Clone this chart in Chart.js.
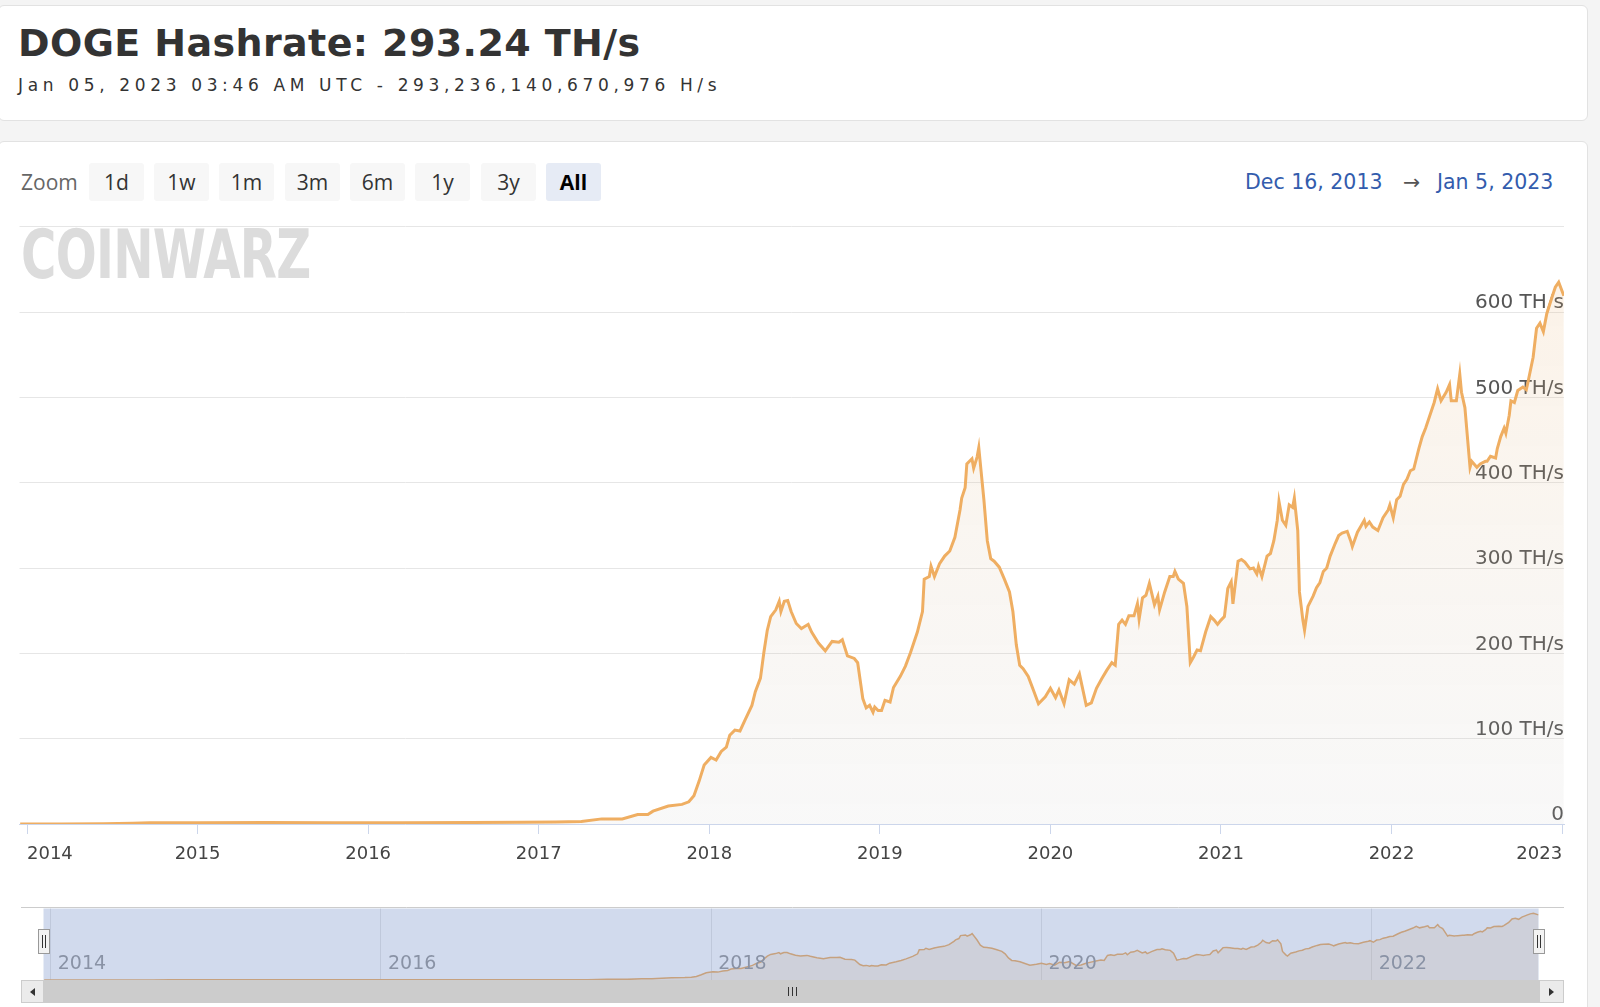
<!DOCTYPE html>
<html>
<head>
<meta charset="utf-8">
<script src="https://cdn.jsdelivr.net/npm/chart.js@4.4.0/dist/chart.umd.min.js"></script>
<style>
body { margin:0; width:1600px; height:1007px; background:#f4f4f4; position:relative; overflow:hidden; font-family:"DejaVu Sans", sans-serif; }
.card { position:absolute; left:-2px; width:1590px; background:#fff; border:1px solid #e2e2e2; border-radius:6px; box-sizing:border-box; }
#head { top:5px; height:116px; }
#panel { top:141px; height:900px; }
#title { position:absolute; left:18px; top:24px; font:bold 38px "DejaVu Sans"; line-height:1; color:#333; white-space:nowrap; letter-spacing:0.4px; }
#sub { position:absolute; left:18px; top:77px; font:17px "DejaVu Sans"; line-height:1; color:#333; white-space:nowrap; letter-spacing:4.65px; }
#zoomLbl { position:absolute; left:21px; top:163px; font:21px "Open Sans"; line-height:39px; color:#666; }
.btn { position:absolute; top:163px; width:55px; height:38px; text-align:center; background:#f7f7f7; border-radius:3px; font:21px "Open Sans"; line-height:39px; color:#333; }
.btn.on { background:#e6ebf5; font-weight:bold; color:#000; }
.range { position:absolute; top:163px; font:20.5px "DejaVu Sans"; line-height:39px; color:#335cad; white-space:nowrap; }
#logo { position:absolute; left:21px; top:222px; font:bold 67px "DejaVu Sans"; line-height:1; color:#dcdcdc; transform:scaleX(0.72); transform-origin:left top; letter-spacing:-1px; }
canvas { position:absolute; }
#main { left:0; top:200px; }
#nav { left:21px; top:907px; }
.sb { position:absolute; top:980px; height:23px; box-sizing:border-box; }
#sbL, #sbR { background:#ebebeb; border:1px solid #cccccc; }
#sbL { left:21px; width:23px; }
#sbR { left:1539px; width:25px; }
#thumb { left:44px; width:1495px; background:#cccccc; }
.tri { position:absolute; top:7px; width:0; height:0; border-top:4px solid transparent; border-bottom:4px solid transparent; }
#sbL .tri { left:8px; border-right:5px solid #333; }
#sbR .tri { left:9px; border-left:5px solid #333; }
#grip { position:absolute; left:744px; top:7px; width:9px; height:9px; border-left:1px solid #333; border-right:1px solid #333; box-sizing:border-box; }
#grip:after { content:""; position:absolute; left:3px; top:0; width:1px; height:9px; background:#333; }
</style>
</head>
<body>
<div class="card" id="head"></div>
<div class="card" id="panel"></div>
<div id="title">DOGE Hashrate: 293.24 TH/s</div>
<div id="sub">Jan 05, 2023 03:46 AM UTC - 293,236,140,670,976 H/s</div>
<div id="zoomLbl">Zoom</div>
<div class="btn" style="left:89px">1d</div>
<div class="btn" style="left:154px">1w</div>
<div class="btn" style="left:219px">1m</div>
<div class="btn" style="left:285px">3m</div>
<div class="btn" style="left:350px">6m</div>
<div class="btn" style="left:415px">1y</div>
<div class="btn" style="left:481px">3y</div>
<div class="btn on" style="left:546px">All</div>
<div class="range" style="left:1245px">Dec 16, 2013</div>
<div class="range" style="left:1403px;color:#555">→</div>
<div class="range" style="left:1437px">Jan 5, 2023</div>
<div id="logo">COINWARZ</div>
<canvas id="main" width="1587" height="680"></canvas>
<canvas id="nav" width="1543" height="73"></canvas>
<div class="sb" id="sbL"><div class="tri"></div></div>
<div class="sb" id="thumb"><div id="grip"></div></div>
<div class="sb" id="sbR"><div class="tri"></div></div>
<script>
// fractional year of each sample, Dec 16 2013 -> Jan 5 2023
const years = [
    2013.96, 2014.20, 2014.45, 2014.62, 2014.72, 2015.00, 2015.40, 2015.80, 2016.20, 2016.60,
    2016.90, 2017.10, 2017.25, 2017.37, 2017.49, 2017.58, 2017.64, 2017.67, 2017.76, 2017.84,
    2017.88, 2017.91, 2017.94, 2017.97, 2018.01, 2018.04, 2018.07, 2018.10, 2018.12, 2018.15,
    2018.18, 2018.21, 2018.25, 2018.27, 2018.30, 2018.32, 2018.34, 2018.36, 2018.39, 2018.41,
    2018.42, 2018.44, 2018.46, 2018.48, 2018.51, 2018.54, 2018.58, 2018.60, 2018.64, 2018.68,
    2018.72, 2018.76, 2018.78, 2018.81, 2018.85, 2018.87, 2018.90, 2018.92, 2018.94, 2018.96,
    2018.97, 2018.99, 2019.01, 2019.03, 2019.06, 2019.08, 2019.12, 2019.15, 2019.18, 2019.22,
    2019.25, 2019.26, 2019.29, 2019.30, 2019.32, 2019.35, 2019.38, 2019.41, 2019.44, 2019.47,
    2019.48, 2019.50, 2019.51, 2019.54, 2019.55, 2019.57, 2019.58, 2019.61, 2019.63, 2019.65,
    2019.67, 2019.70, 2019.73, 2019.76, 2019.78, 2019.80, 2019.82, 2019.84, 2019.87, 2019.90,
    2019.93, 2019.97, 2020.00, 2020.03, 2020.05, 2020.08, 2020.11, 2020.14, 2020.17, 2020.21,
    2020.24, 2020.27, 2020.30, 2020.33, 2020.36, 2020.38, 2020.40, 2020.42, 2020.44, 2020.46,
    2020.49, 2020.51, 2020.52, 2020.54, 2020.56, 2020.58, 2020.61, 2020.63, 2020.64, 2020.67,
    2020.70, 2020.72, 2020.73, 2020.75, 2020.78, 2020.80, 2020.82, 2020.84, 2020.86, 2020.88,
    2020.91, 2020.94, 2020.96, 2020.98, 2021.00, 2021.02, 2021.04, 2021.06, 2021.07, 2021.10,
    2021.12, 2021.14, 2021.17, 2021.19, 2021.21, 2021.22, 2021.24, 2021.27, 2021.29, 2021.31,
    2021.33, 2021.34, 2021.36, 2021.38, 2021.40, 2021.42, 2021.43, 2021.45, 2021.46, 2021.48,
    2021.49, 2021.51, 2021.54, 2021.56, 2021.58, 2021.60, 2021.62, 2021.64, 2021.67, 2021.69,
    2021.71, 2021.74, 2021.76, 2021.77, 2021.80, 2021.82, 2021.84, 2021.85, 2021.87, 2021.89,
    2021.92, 2021.95, 2021.98, 2021.99, 2022.01, 2022.03, 2022.05, 2022.07, 2022.09, 2022.11,
    2022.13, 2022.16, 2022.18, 2022.20, 2022.22, 2022.25, 2022.27, 2022.29, 2022.32, 2022.34,
    2022.35, 2022.38, 2022.40, 2022.41, 2022.43, 2022.46, 2022.47, 2022.50, 2022.52, 2022.55,
    2022.56, 2022.58, 2022.61, 2022.62, 2022.64, 2022.66, 2022.67, 2022.69, 2022.70, 2022.72,
    2022.74, 2022.77, 2022.79, 2022.80, 2022.83, 2022.85, 2022.87, 2022.89, 2022.91, 2022.94,
    2022.96, 2022.98, 2023.01
];
// hashrate in TH/s
const hashrate = [
    0.1, 0.1, 0.3, 0.8, 1.5, 1.6, 1.7, 1.5, 1.6, 1.8,
    2.0, 2.4, 3, 6, 6, 11, 11, 15, 21, 23,
    26, 33, 50, 69, 78, 75, 85, 90, 104, 110,
    109, 122, 139, 155, 171, 201, 227, 243, 251, 261,
    249, 261, 262, 249, 235, 229, 234, 225, 212, 203,
    214, 213, 216, 197, 194, 189, 147, 136, 139, 131,
    137, 133, 133, 145, 143, 160, 173, 185, 201, 225,
    249, 287, 290, 302, 290, 305, 314, 320, 336, 368,
    382, 394, 422, 428, 417, 430, 441, 380, 332, 311,
    308, 301, 287, 272, 249, 210, 186, 182, 173, 157,
    141, 149, 159, 148, 157, 141, 169, 164, 176, 139,
    142, 159, 170, 180, 189, 186, 234, 239, 234, 244,
    244, 258, 240, 265, 268, 282, 257, 267, 251, 272,
    290, 290, 296, 287, 282, 255, 189, 196, 204, 203,
    225, 243, 239, 234, 239, 243, 276, 284, 258, 308,
    310, 307, 299, 300, 293, 302, 290, 314, 317, 332,
    356, 378, 356, 350, 374, 371, 382, 344, 272, 239,
    227, 255, 267, 277, 283, 296, 300, 314, 329, 338,
    341, 343, 332, 325, 342, 349, 356, 349, 354, 348,
    344, 359, 368, 374, 359, 380, 384, 398, 404, 414,
    416, 440, 454, 464, 476, 494, 510, 496, 506, 515,
    496, 496, 527, 506, 488, 418, 425, 418, 422, 425,
    425, 431, 429, 440, 454, 464, 458, 479, 496, 494,
    508, 512, 509, 518, 547, 581, 587, 577, 598, 617,
    629, 635, 619
];
const yearTicks = [2014, 2015, 2016, 2017, 2018, 2019, 2020, 2021, 2022, 2023];
const navTicks = [2014, 2016, 2018, 2020, 2022];
const yTicks = [0, 100, 200, 300, 400, 500, 600, 700];
const xStart = 2013.956; // Dec 16, 2013
const xEnd = 2023.011;   // Jan 5, 2023

const points = years.map((y, i) => ({ x: y, y: hashrate[i] }));
const lineColor = '#efae62';

new Chart("main", {
    type: "line",
    data: {
        datasets: [{
            data: points,
            borderColor: lineColor,
            borderWidth: 3,
            pointRadius: 0,
            tension: 0,
            fill: 'origin',
            backgroundColor: function (ctx) {
                const a = ctx.chart.chartArea;
                if (!a) return 'rgba(0,0,0,0)';
                const g = ctx.chart.ctx.createLinearGradient(0, a.top, 0, a.bottom);
                g.addColorStop(0, 'rgba(239,174,98,0.16)');
                g.addColorStop(1, 'rgba(190,190,190,0.1)');
                return g;
            }
        }]
    },
    options: {
        responsive: false,
        animation: false,
        layout: { padding: { left: 19.5, right: 23, top: 26.7, bottom: 16 } },
        plugins: { legend: { display: false }, tooltip: { enabled: false } },
        scales: {
            x: {
                type: 'linear',
                min: xStart,
                max: xEnd,
                afterBuildTicks: s => { s.ticks = yearTicks.map(v => ({ value: v })); },
                afterFit: s => { s.height = 40; },
                grid: {
                    drawOnChartArea: false,
                    drawTicks: true,
                    tickLength: 10,
                    color: '#ccd6eb'
                },
                border: { display: true, color: '#ccd6eb' },
                ticks: {
                    align: 'inner',
                    padding: 10,
                    color: '#444',
                    font: { family: 'DejaVu Sans', size: 18 },
                    callback: v => String(v)
                }
            },
            y: {
                position: 'right',
                min: 0,
                max: 700,
                afterBuildTicks: s => { s.ticks = yTicks.map(v => ({ value: v })); },
                afterFit: s => { s.width = 0; },
                grid: { color: '#e6e6e6', drawTicks: false },
                border: { display: false },
                ticks: {
                    mirror: true,
                    padding: 0,
                    labelOffset: -9,
                    color: '#555',
                    font: { family: 'DejaVu Sans', size: 20 },
                    callback: v => v === 700 ? '' : (v === 0 ? '0' : v + ' TH/s')
                }
            }
        }
    }
});

// navigator: labels inside, blue mask and handles on top
const navOverlay = {
    id: 'navOverlay',
    afterDraw(chart) {
        const c = chart.ctx;
        const a = chart.chartArea;
        const xs = chart.scales.x;
        c.save();
        c.fillStyle = '#999';
        c.font = '19px "DejaVu Sans"';
        c.textBaseline = 'middle';
        navTicks.forEach(v => c.fillText(String(v), xs.getPixelForValue(v) + 7, 57));
        c.fillStyle = 'rgba(102,133,194,0.3)';
        c.fillRect(a.left, a.top, a.right - a.left, a.bottom - a.top);
        c.strokeStyle = '#cccccc';
        c.lineWidth = 1;
        c.beginPath();
        c.moveTo(0, 0.5);
        c.lineTo(chart.width, 0.5);
        c.stroke();
        [a.left, a.right].forEach(px => {
            const x0 = Math.round(px) - 5.5;
            c.fillStyle = '#f2f2f2';
            c.strokeStyle = '#999';
            c.fillRect(x0, 22.5, 11, 24);
            c.strokeRect(x0, 22.5, 11, 24);
            c.strokeStyle = '#333';
            c.beginPath();
            c.moveTo(x0 + 4, 28); c.lineTo(x0 + 4, 41);
            c.moveTo(x0 + 7, 28); c.lineTo(x0 + 7, 41);
            c.stroke();
        });
        c.restore();
    }
};

new Chart("nav", {
    type: "line",
    data: {
        datasets: [{
            data: points,
            borderColor: lineColor,
            borderWidth: 1.5,
            pointRadius: 0,
            tension: 0,
            fill: 'origin',
            backgroundColor: 'rgba(240,175,95,0.17)'
        }]
    },
    options: {
        responsive: false,
        animation: false,
        layout: { padding: { left: 22.5, right: 25.4, top: 1.5, bottom: 0 } },
        plugins: { legend: { display: false }, tooltip: { enabled: false } },
        scales: {
            x: {
                type: 'linear',
                min: xStart,
                max: xEnd,
                afterBuildTicks: s => { s.ticks = navTicks.map(v => ({ value: v })); },
                afterFit: s => { s.height = 0; },
                grid: { color: '#e6e6e6', drawTicks: false },
                border: { display: false },
                ticks: { display: false }
            },
            y: {
                display: false,
                min: 0,
                max: 680
            }
        }
    },
    plugins: [navOverlay]
});
</script>
</body>
</html>
